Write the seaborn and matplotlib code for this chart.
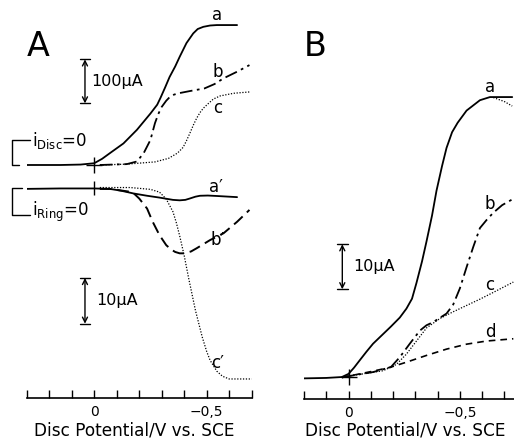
import numpy as np
import pandas as pd
import matplotlib
matplotlib.use("Agg")
import matplotlib.pyplot as plt
from matplotlib.ticker import FixedLocator, FixedFormatter
import seaborn as sns

# ---------------- Panel A: disc currents (µA) vs disc potential (V vs SCE) ----
disc_a_E = [0.31, 0.15, 0.06, 0.0, -0.035, -0.07, -0.13, -0.19, -0.25, -0.28,
            -0.295, -0.315, -0.335, -0.36, -0.38, -0.41, -0.44, -0.46, -0.485,
            -0.515, -0.545, -0.635]
disc_a_I = [0, 0, 1, 4, 14, 27, 49, 80, 117, 137, 153, 176, 200, 224, 246, 277,
            299, 309, 314, 317, 318, 318]

disc_b_E = [-0.025, -0.145, -0.19, -0.22, -0.25, -0.27, -0.285, -0.30, -0.32,
            -0.335, -0.355, -0.375, -0.425, -0.49, -0.535, -0.575, -0.635, -0.69]
disc_b_I = [0, 2, 8, 27, 57, 95, 116, 132, 146, 154, 160, 163, 168, 174, 184, 197,
            212, 227]

disc_c_E = [-0.025, -0.145, -0.27, -0.33, -0.37, -0.395, -0.41, -0.425, -0.44,
            -0.455, -0.47, -0.485, -0.51, -0.53, -0.56, -0.62, -0.69]
disc_c_I = [0, 2, 7, 15, 27, 40, 55, 72, 90, 106, 119, 129, 141, 150, 157, 163, 166]

# ---------------- Panel A: ring currents (µA) ----------------------------------
ring_a_E = [0.31, 0.15, 0.0, -0.07, -0.12, -0.175, -0.235, -0.29, -0.35, -0.38,
            -0.405, -0.425, -0.45, -0.47, -0.505, -0.545, -0.635]
ring_a_I = [-0.2, -0.1, -0.1, -0.2, -0.6, -1.2, -1.7, -2.1, -2.6, -2.7, -2.6,
            -2.3, -1.9, -1.7, -1.65, -1.75, -2.0]

ring_b_E = [-0.025, -0.07, -0.17, -0.20, -0.235, -0.26, -0.29, -0.32, -0.34,
            -0.36, -0.38, -0.40, -0.43, -0.455, -0.515, -0.575, -0.635, -0.69]
ring_b_I = [-0.2, -0.2, -0.9, -2.3, -4.5, -7.4, -10.3, -12.5, -13.4, -14.0,
            -14.3, -14.3, -13.9, -13.2, -11.4, -9.9, -7.4, -4.8]

ring_c_E = [-0.025, -0.16, -0.25, -0.29, -0.32, -0.35, -0.365, -0.38, -0.40,
            -0.42, -0.45, -0.48, -0.50, -0.515, -0.545, -0.57, -0.60, -0.70]
ring_c_I = [0.1, 0.1, -0.3, -0.9, -2.4, -5.2, -7.6, -10.5, -14.8, -19.8, -26.8,
            -32.6, -35.8, -37.7, -40.1, -41.2, -41.8, -41.8]

# ---------------- Panel B: disc currents (µA) ----------------------------------
b_a_E = [0.20, 0.10, 0.03, 0.0, -0.025, -0.05, -0.08, -0.11, -0.15, -0.19,
         -0.23, -0.26, -0.285, -0.305, -0.33, -0.35, -0.375, -0.395, -0.42,
         -0.44, -0.465, -0.49, -0.53, -0.59, -0.635, -0.71, -0.735]
b_a_I = [-0.2, -0.1, 0.1, 0.8, 2.2, 3.8, 5.7, 7.5, 9.4, 11.3, 13.3, 15.3, 17.5,
         21.0, 25.8, 30.2, 36.0, 41.5, 47.0, 51.0, 54.5, 56.6, 59.3, 61.6, 62.3,
         62.3, 62.3]

b_b_E = [0.03, 0.0, -0.11, -0.19, -0.23, -0.275, -0.32, -0.35, -0.38, -0.44,
         -0.47, -0.50, -0.53, -0.56, -0.59, -0.62, -0.65, -0.69, -0.74]
b_b_I = [0, 0.3, 1.2, 2.3, 4.5, 7.5, 10.4, 11.6, 12.3, 14.2, 16.2, 19.8, 24.5,
         29.0, 33.2, 35.0, 36.6, 38.3, 39.7]

b_c_E = [0.03, 0.0, -0.155, -0.215, -0.26, -0.305, -0.35, -0.41, -0.47, -0.53,
         -0.59, -0.65, -0.74]
b_c_I = [0, 0.3, 1.5, 2.9, 5.2, 8.1, 11.0, 13.1, 14.6, 16.0, 17.4, 18.9, 21.2]

b_d_E = [0.03, 0.0, -0.11, -0.19, -0.26, -0.35, -0.44, -0.53, -0.62, -0.74]
b_d_I = [0, 0.3, 1.4, 2.3, 3.4, 4.9, 6.3, 7.4, 8.1, 8.6]

# short dotted trace leaving the plateau of curve a
b_tail_E = [-0.65, -0.70, -0.735]
b_tail_I = [62.2, 61.3, 60.3]

# tick positions / labels on the potential axis
major_ticks = [0.0, -0.5]
major_labels = ["0", "\u22120,5"]
minor_ticks_A = [0.3, 0.2, 0.1, -0.1, -0.2, -0.3, -0.4, -0.6, -0.7]
minor_ticks_B = [0.2, 0.1, -0.1, -0.2, -0.3, -0.4, -0.6, -0.7]
x_title = "Disc Potential/V vs. SCE"

# scale bars (µA)
disc_scale_A = 100
ring_scale_A = 10
disc_scale_B = 10

sns.set_style("white")
plt.rcParams["font.family"] = ["DejaVu Sans"]
plt.rcParams["text.color"] = "black"
plt.rcParams["axes.labelcolor"] = "black"
plt.rcParams["xtick.color"] = "black"

W, H = 514, 440
fig = plt.figure(figsize=(W / 100, H / 100), dpi=100)


def px_axes(x0, y0, x1, y1):
    return fig.add_axes([x0 / W, 1 - y1 / H, (x1 - x0) / W, (y1 - y0) / H])


ax_disc = px_axes(26.7, 5, 251.7, 180)
ax_ring = px_axes(26.7, 180, 251.7, 397.7)
ax_B = px_axes(304, 30, 514, 398.5)

for ax in (ax_disc, ax_ring, ax_B):
    ax.patch.set_alpha(0)
    for s in ax.spines.values():
        s.set_visible(False)
    ax.set_yticks([])

ax_disc.set_xlim(0.3, -0.7)
ax_disc.set_ylim(-34.1, 363.6)
ax_disc.set_xticks([])
ax_ring.set_xlim(0.3, -0.7)
ax_ring.set_ylim(-45.9, 1.75)
ax_B.set_xlim(0.2, -0.743)
ax_B.set_ylim(-4.67, 77.2)

K = "black"
SOLID = dict(linestyle="-", linewidth=1.3)
DASHDOT = dict(linestyle=(0, (7, 2.5, 1.5, 2.5)), linewidth=1.3)
DOTTED = dict(linestyle=(0, (1, 1.3)), linewidth=0.9)
DASHED = dict(linestyle=(0, (6, 3)), linewidth=1.4)
DASHED_D = dict(linestyle=(0, (4, 3)), linewidth=1.2)


def curve(ax, E, I, style):
    sns.lineplot(x=E, y=I, ax=ax, color=K, sort=False, estimator=None,
                 legend=False, **style)


curve(ax_disc, disc_a_E, disc_a_I, SOLID)
curve(ax_disc, disc_b_E, disc_b_I, DASHDOT)
curve(ax_disc, disc_c_E, disc_c_I, DOTTED)
curve(ax_ring, ring_a_E, ring_a_I, SOLID)
curve(ax_ring, ring_b_E, ring_b_I, DASHED)
curve(ax_ring, ring_c_E, ring_c_I, DOTTED)
curve(ax_B, b_a_E, b_a_I, SOLID)
curve(ax_B, b_b_E, b_b_I, DASHDOT)
curve(ax_B, b_c_E, b_c_I, DOTTED)
curve(ax_B, b_d_E, b_d_I, DASHED_D)
curve(ax_B, b_tail_E, b_tail_I, DOTTED)

# potential axes along the bottom
for ax, minors, y1 in ((ax_ring, minor_ticks_A, 397.7),
                       (ax_B, minor_ticks_B, 398.5)):
    ax.spines["bottom"].set_visible(True)
    ax.spines["bottom"].set_color(K)
    ax.spines["bottom"].set_linewidth(1.2)
    ax.xaxis.set_major_locator(FixedLocator(major_ticks))
    ax.xaxis.set_major_formatter(FixedFormatter(major_labels))
    ax.xaxis.set_minor_locator(FixedLocator(minors))
    ax.tick_params(axis="x", which="both", direction="in", length=6, width=1.0,
                   color=K, bottom=True, labelsize=10, pad=5.5, labelcolor=K)
    ax.set_xlabel(x_title, fontsize=12.2)
    ax.set_ylabel("")
    bbox_h = ax.get_position().height * H
    ax.xaxis.label.set_va("center")
    ax.xaxis.set_label_coords(0.48, -(430.5 - y1) / bbox_h)

ax_disc.set_xlabel("")
ax_disc.set_ylabel("")

# origin crosses
ax_disc.plot([0], [0], marker="+", ms=12, mew=1.0, color=K)
ax_ring.plot([0], [0], marker="|", ms=10, mew=1.0, color=K)
ax_B.plot([0], [0], marker="+", ms=12, mew=1.0, color=K)


def scale_bar(ax, x, y0, span, dx, label, tx):
    y1 = y0 + span
    ax.annotate("", xy=(x, y1), xytext=(x, y0),
                arrowprops=dict(arrowstyle="<->", color=K, lw=1.0,
                                shrinkA=0, shrinkB=0, mutation_scale=9))
    ax.plot([x + dx, x - dx], [y0, y0], color=K, lw=1.0)
    ax.plot([x + dx, x - dx], [y1, y1], color=K, lw=1.0)
    ax.text(tx, y0 + span / 2, label, ha="left", va="center", fontsize=11.5)


scale_bar(ax_disc, 0.041, 140, disc_scale_A, 0.024, "100\u03bcA", 0.012)
scale_bar(ax_ring, 0.041, -29.7, ring_scale_A, 0.024, "10\u03bcA", -0.01)
scale_bar(ax_B, 0.028, 19.6, disc_scale_B, 0.024, "10\u03bcA", -0.02)

# zero-current brackets
ax_disc.plot([0.286, 0.366, 0.366, 0.335], [56.8, 56.8, 0, 0], color=K, lw=1.0,
             clip_on=False)
ax_disc.text(0.277, 55, r"$\mathregular{i_{Disc}}$=0", ha="left", va="center",
             fontsize=12)
ax_ring.plot([0.32, 0.366, 0.366, 0.286], [0, 0, -5.9, -5.9], color=K, lw=1.0,
             clip_on=False)
ax_ring.text(0.277, -5.3, r"$\mathregular{i_{Ring}}$=0", ha="left", va="center",
             fontsize=12)

# curve labels
lab = dict(ha="center", va="center", fontsize=12)
ax_disc.text(-0.545, 341, "a", **lab)
ax_disc.text(-0.55, 211, "b", **lab)
ax_disc.text(-0.55, 130, "c", **lab)
ax_ring.text(-0.54, 0.3, "a\u2032", **lab)
ax_ring.text(-0.55, -11.4, "b\u2032", **lab)
ax_ring.text(-0.55, -38.4, "c\u2032", **lab)
ax_B.text(-0.635, 64.5, "a", **lab)
ax_B.text(-0.635, 38.5, "b", **lab)
ax_B.text(-0.635, 20.5, "c", **lab)
ax_B.text(-0.635, 10.2, "d", **lab)

fig.text(38 / W, 1 - 47 / H, "A", ha="center", va="center", fontsize=24)
fig.text(315 / W, 1 - 47 / H, "B", ha="center", va="center", fontsize=24)

fig.savefig("out.png", dpi=100)
